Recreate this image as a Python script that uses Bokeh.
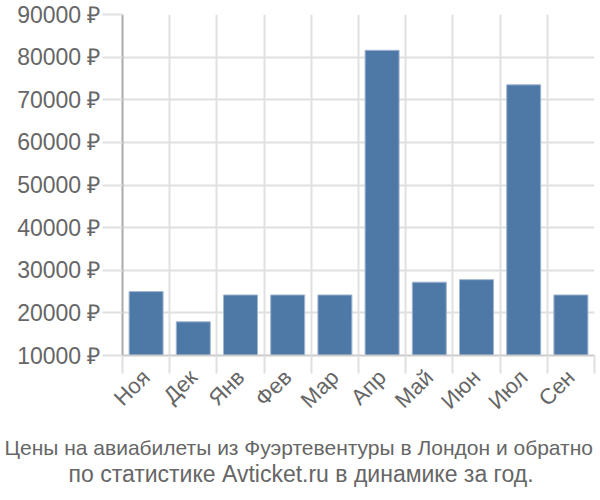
import math
from bokeh.plotting import figure
from bokeh.models import FixedTicker, Range1d, Title
from bokeh.embed import file_html
from bokeh.resources import INLINE

months = ["Ноя", "Дек", "Янв", "Фев", "Мар", "Апр", "Май", "Июн", "Июл", "Сен"]
prices = [25000, 17900, 24200, 24200, 24200, 81600, 27200, 27800, 73500, 24200]
y_ticks = [10000, 20000, 30000, 40000, 50000, 60000, 70000, 80000, 90000]
y_tick_labels = [f"{v} ₽" for v in y_ticks]
title_lines = ["Цены на авиабилеты из Фуэртевентуры в Лондон и обратно",
               "по статистике Avticket.ru в динамике за год."]

FONT = "Liberation Sans"
GRID = "#e0e0e0"
TEXT = "#666666"

p = figure(width=600, height=500, output_backend="svg", toolbar_location=None,
           x_range=Range1d(0, len(months)), y_range=Range1d(10000, 90000),
           min_border_left=122, min_border_right=6, min_border_top=14,
           min_border_bottom=145)
p.outline_line_color = None

centers = [i + 0.5 for i in range(len(months))]
p.vbar(x=centers, top=prices, bottom=10000, width=0.72,
       fill_color="#4e79a7", line_color="#9fb6d0", line_width=1)

# axes
xa = p.xaxis[0]
xa.ticker = FixedTicker(ticks=centers, minor_ticks=list(range(len(months) + 1)))
xa.major_label_overrides = {c: m for c, m in zip(centers, months)}
xa.major_tick_line_color = None
xa.minor_tick_out = 18
xa.minor_tick_in = 0
xa.minor_tick_line_color = GRID
xa.minor_tick_line_width = 2
xa.axis_line_color = "#cccccc"
xa.axis_line_width = 2
xa.major_label_orientation = math.pi / 4
xa.major_label_text_font = FONT
xa.major_label_text_font_size = "22px"
xa.major_label_text_color = TEXT
xa.major_label_standoff = 0

ya = p.yaxis[0]
ya.ticker = FixedTicker(ticks=y_ticks)
ya.major_label_overrides = {v: l for v, l in zip(y_ticks, y_tick_labels)}
ya.major_tick_out = 20
ya.major_tick_in = 0
ya.major_tick_line_color = GRID
ya.major_tick_line_width = 2
ya.minor_tick_line_color = None
ya.axis_line_color = "#aaaaaa"
ya.axis_line_width = 2
ya.major_label_text_font = FONT
ya.major_label_text_font_size = "23px"
ya.major_label_text_color = TEXT
ya.major_label_standoff = 2

p.xgrid.ticker = FixedTicker(ticks=list(range(len(months) + 1)))
p.xgrid.grid_line_color = GRID
p.xgrid.grid_line_width = 2
p.ygrid.grid_line_color = GRID
p.ygrid.grid_line_width = 2

offsets = [-118, -54]
standoffs = [16, -12]
sizes = ["21px", "23px"]
valigns = ["bottom", "top"]
for line, off, so, fs, va in zip(title_lines, offsets, standoffs, sizes, valigns):
    p.add_layout(Title(text=line, align="left", offset=off, text_font=FONT,
                       text_font_size=fs, text_font_style="normal",
                       vertical_align=va, text_color=TEXT, standoff=so), "below")

open("out.html", "w").write(file_html(p, INLINE))
